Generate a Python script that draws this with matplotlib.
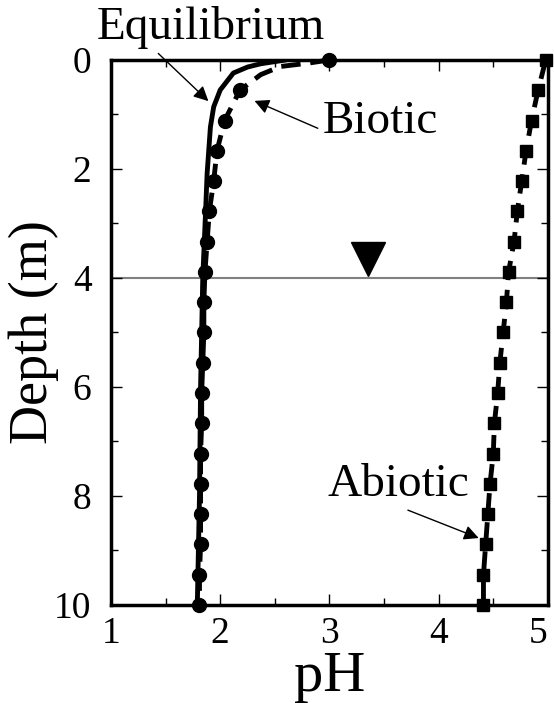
import matplotlib.pyplot as plt
import numpy as np

plt.rcParams['font.family'] = ['Liberation Serif', 'DejaVu Serif']

# depth of sampled points (m)
depth = np.arange(19) * 10 / 18

# biotic simulation (circles)
biotic_ph = [3.0, 2.18, 2.04, 1.97, 1.94, 1.90, 1.88, 1.86, 1.85, 1.85,
             1.84, 1.83, 1.83, 1.82, 1.82, 1.82, 1.82, 1.81, 1.81]
# biotic curve near the surface
biotic_top_depth = [0.0, 0.06, 0.12, 0.27, 0.556]
biotic_top_ph = [3.0, 2.8, 2.55, 2.37, 2.18]

# abiotic simulation (squares)
abiotic_ph = [4.98, 4.91, 4.85, 4.80, 4.76, 4.72, 4.69, 4.64, 4.62, 4.59,
              4.56, 4.54, 4.51, 4.50, 4.47, 4.45, 4.43, 4.41, 4.41]

# equilibrium curve (solid)
equil_depth = [0.0, 0.07, 0.13, 0.24, 0.55, 0.86, 1.23, 2.08, 3.06, 4.0, 6.0, 8.0, 10.0]
equil_ph = [2.6, 2.37, 2.25, 2.12, 2.0, 1.94, 1.91, 1.88, 1.86, 1.84, 1.82, 1.81, 1.79]

water_table = 4.0

fig = plt.figure(figsize=(5.54, 7.03), dpi=100)
ax = fig.add_axes([0.2004, 0.1394, 0.7886, 0.7753])

ax.axhline(water_table, color='#808080', lw=1.5, zorder=1)
ax.plot(3.35, 3.65, marker='v', color='black', markersize=25, linestyle='none')

ax.plot(equil_ph, equil_depth, color='black', lw=3.5, solid_capstyle='round', zorder=3)
ax.plot(biotic_top_ph + biotic_ph[2:], biotic_top_depth + list(depth[2:]),
        color='black', lw=3.5, dashes=(4, 2), zorder=3, clip_on=False)
ax.plot(biotic_ph, depth, 'o', color='black', markersize=10, clip_on=False, zorder=4)
ax.plot(abiotic_ph, depth, color='black', lw=3.5, dashes=(4, 2), marker='s',
        markersize=8.5, clip_on=False, zorder=4)

arrow = dict(arrowstyle='-|>', color='black', lw=1, mutation_scale=22)
ax.annotate('Equilibrium', xy=(1.91, 0.79), xytext=(1.91, -0.6), fontsize=34,
            ha='center', va='center', arrowprops=dict(arrow, relpos=(0.25, 0.0)),
            annotation_clip=False)
ax.annotate('Biotic', xy=(2.29, 0.73), xytext=(3.47, 1.14), fontsize=34,
            ha='center', va='center', arrowprops=dict(arrow, relpos=(0.0, 0.3)))
ax.annotate('Abiotic', xy=(4.39, 8.79), xytext=(3.63, 7.8), fontsize=34,
            ha='center', va='center', arrowprops=dict(arrow, relpos=(0.5, 0.0)))

ax.set_xlim(1, 5)
ax.set_ylim(10, 0)
ax.set_xticks([1, 2, 3, 4, 5])
ax.set_xticks(np.arange(1.5, 5, 1), minor=True)
ax.set_yticks([0, 2, 4, 6, 8, 10])
ax.set_yticks([1, 3, 5, 7, 9], minor=True)
ax.tick_params(which='both', direction='in', top=True, right=True,
               labelsize=27, width=1)
ax.tick_params(axis='x', pad=8)
ax.tick_params(axis='y', pad=14)
ax.tick_params(which='major', length=8)
ax.tick_params(which='minor', length=5)
for s in ax.spines.values():
    s.set_linewidth(2.5)
ax.get_xticklabels()[-1].set_horizontalalignment('right')

ax.set_xlabel('pH', fontsize=42, labelpad=0)
ax.set_ylabel('Depth (m)', fontsize=39)
ax.yaxis.set_label_coords(-0.12, 0.5)

fig.savefig('out.png', dpi=100)
